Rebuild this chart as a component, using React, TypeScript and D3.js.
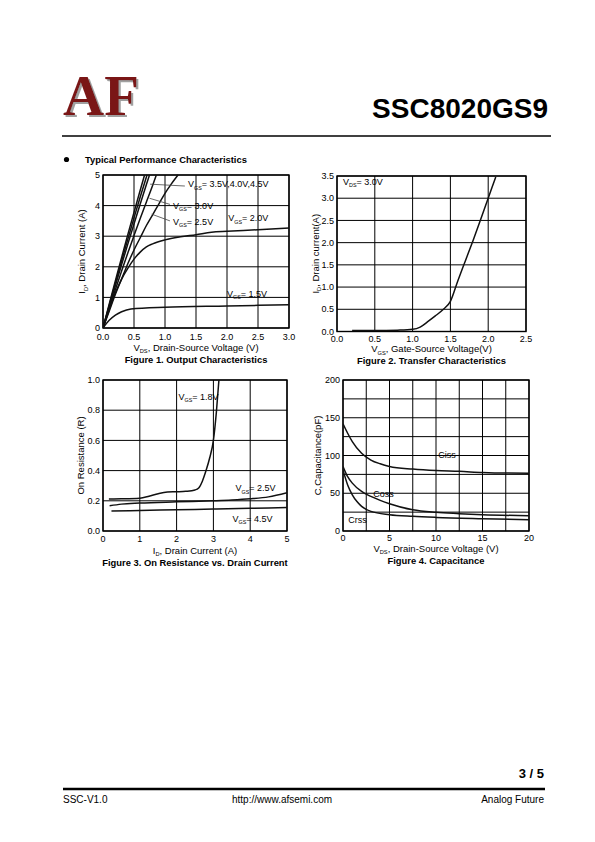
import React from "react";
import * as d3 from "d3";

type Pt = [number, number];

// ---------- Figure 1: Output characteristics (VDS [V], ID [A]) ----------
const fig1XTicks = [0, 0.5, 1, 1.5, 2, 2.5, 3];
const fig1YTicks = [0, 1, 2, 3, 4, 5];
const vgs45: Pt[] = [[0, 0], [0.1, 0.78], [0.2, 1.55], [0.3, 2.3], [0.4, 3.05], [0.5, 3.78], [0.6, 4.5], [0.67, 5.0]];
const vgs40: Pt[] = [[0, 0], [0.1, 0.74], [0.2, 1.47], [0.3, 2.19], [0.4, 2.9], [0.5, 3.6], [0.6, 4.28], [0.71, 5.0]];
const vgs35: Pt[] = [[0, 0], [0.1, 0.7], [0.2, 1.39], [0.3, 2.07], [0.4, 2.74], [0.5, 3.4], [0.6, 4.05], [0.7, 4.69], [0.75, 5.0]];
const vgs30: Pt[] = [[0, 0], [0.1, 0.64], [0.2, 1.26], [0.3, 1.86], [0.4, 2.45], [0.5, 3.02], [0.6, 3.58], [0.7, 4.12], [0.8, 4.66], [0.86, 5.0]];
const vgs25: Pt[] = [[0, 0], [0.1, 0.55], [0.2, 1.1], [0.3, 1.6], [0.4, 2.1], [0.5, 2.55], [0.6, 2.95], [0.7, 3.35], [0.8, 3.7], [0.9, 4.05], [1.0, 4.4], [1.1, 4.7], [1.21, 5.0]];
const vgs20: Pt[] = [[0, 0], [0.1, 0.6], [0.2, 1.15], [0.3, 1.6], [0.4, 1.95], [0.5, 2.25], [0.6, 2.48], [0.7, 2.65], [0.8, 2.75], [1.0, 2.88], [1.25, 2.98], [1.5, 3.05], [1.75, 3.13], [2.0, 3.16], [2.5, 3.21], [3.0, 3.27]];
const vgs15: Pt[] = [[0, 0], [0.1, 0.25], [0.2, 0.42], [0.3, 0.53], [0.45, 0.62], [1.0, 0.68], [2.0, 0.72], [3.0, 0.76]];

// ---------- Figure 2: Transfer characteristics (VGS [V], ID [A]) ----------
const fig2XTicks = [0, 0.5, 1, 1.5, 2, 2.5];
const fig2YTicks = [0, 0.5, 1, 1.5, 2, 2.5, 3, 3.5];
const transfer: Pt[] = [[0.2, 0.02], [0.5, 0.02], [0.8, 0.03], [1.0, 0.05], [1.1, 0.1], [1.2, 0.22], [1.3, 0.35], [1.4, 0.49], [1.5, 0.68], [1.6, 1.15], [1.7, 1.6], [1.8, 2.05], [1.9, 2.52], [2.0, 3.0], [2.1, 3.48]];

// ---------- Figure 3: On resistance vs drain current (ID [A], R) ----------
const fig3XTicks = [0, 1, 2, 3, 4, 5];
const fig3YTicks = [0, 0.2, 0.4, 0.6, 0.8, 1.0];
const ron18: Pt[] = [[0.16, 0.212], [0.5, 0.213], [1.0, 0.217], [1.25, 0.23], [1.5, 0.247], [1.75, 0.258], [2.0, 0.26], [2.25, 0.263], [2.5, 0.272], [2.6, 0.285], [2.7, 0.33], [2.8, 0.4], [2.9, 0.485], [3.0, 0.6], [3.08, 0.785], [3.15, 1.0]];
const ron25: Pt[] = [[0.18, 0.167], [0.5, 0.178], [1.0, 0.185], [2.0, 0.193], [3.0, 0.2], [3.5, 0.205], [4.0, 0.213], [4.5, 0.226], [5.0, 0.253]];
const ron45: Pt[] = [[0.23, 0.133], [1.0, 0.136], [2.0, 0.141], [3.0, 0.145], [4.0, 0.15], [5.0, 0.155]];

// ---------- Figure 4: Capacitance (VDS [V], C [pF]) ----------
const fig4XGrid = [0, 2.5, 5, 7.5, 10, 12.5, 15, 17.5, 20];
const fig4XLabels = [0, 5, 10, 15, 20];
const fig4YGrid = [0, 25, 50, 75, 100, 125, 150, 175, 200];
const fig4YLabels = [0, 50, 100, 150, 200];
const ciss: Pt[] = [[0, 142], [0.5, 129.5], [1, 118.5], [2, 103], [3, 94], [4, 89], [5, 85.5], [7.5, 82], [10, 80], [12.5, 79], [15, 77.5], [17.5, 76.7], [20, 76.5]];
const coss: Pt[] = [[0, 85.5], [0.5, 72], [1, 63.4], [2, 52.4], [3, 45.8], [4, 40.5], [5, 36], [7.5, 28], [10, 24.7], [12.5, 23], [15, 21.6], [20, 20.3]];
const crss: Pt[] = [[0, 81], [0.5, 61], [1, 48], [1.5, 39], [2, 32.6], [3, 26], [5, 21.6], [7.5, 19.4], [10, 18], [15, 16.3], [20, 15]];

const FONT = "'Liberation Sans', Arial, Helvetica, sans-serif";

type Box = { x0: number; x1: number; y0: number; y1: number };

interface Ann {
  x: number;
  y: number;
  main: string;
  sub?: string;
  rest?: string;
}
interface Leader {
  from: Pt;
  to: Pt;
}

function SubText(props: { x: number; y: number; main: string; sub?: string; rest?: string; size?: number; anchor?: string; transform?: string; weight?: string }) {
  const size = props.size ?? 9;
  return (
    <text x={props.x} y={props.y} fontSize={size} textAnchor={props.anchor ?? "start"} transform={props.transform} fontFamily={FONT} fontWeight={props.weight}>
      {props.main}
      {props.sub ? (
        <tspan fontSize={size * 0.6} dy={size * 0.28}>
          {props.sub}
        </tspan>
      ) : null}
      {props.rest ? (
        <tspan fontSize={size} dy={props.sub ? -size * 0.28 : 0}>
          {props.rest}
        </tspan>
      ) : null}
    </text>
  );
}

function Panel(props: {
  box: Box;
  xDomain: [number, number];
  yDomain: [number, number];
  xGrid: number[];
  yGrid: number[];
  xLabels: number[];
  yLabels: number[];
  xFmt: (v: number) => string;
  yFmt: (v: number) => string;
  series: Pt[][];
  anns: Ann[];
  leaders?: Leader[];
  xLabelDy: number;
  xTitle: { main: string; sub: string; rest: string; y: number };
  caption: { text: string; y: number };
  yTitle: { main: string; sub?: string; rest?: string; x: number };
}) {
  const { box } = props;
  const x = d3.scaleLinear().domain(props.xDomain).range([box.x0, box.x1]);
  const y = d3.scaleLinear().domain(props.yDomain).range([box.y1, box.y0]);
  const line = d3
    .line<Pt>()
    .x((d) => x(d[0]))
    .y((d) => y(d[1]))
    .curve(d3.curveMonotoneX);
  const cx = (box.x0 + box.x1) / 2;
  const cy = (box.y0 + box.y1) / 2;
  const clipId = `clip-${Math.round(box.x0)}-${Math.round(box.y0)}`;
  return (
    <g>
      <defs>
        <clipPath id={clipId}>
          <rect x={box.x0} y={box.y0 - 1} width={box.x1 - box.x0} height={box.y1 - box.y0 + 1} />
        </clipPath>
      </defs>
      {props.xGrid.map((v) => (
        <line key={"gx" + v} x1={x(v)} x2={x(v)} y1={box.y0} y2={box.y1} stroke="#000" strokeWidth={1} />
      ))}
      {props.yGrid.map((v) => (
        <line key={"gy" + v} x1={box.x0} x2={box.x1} y1={y(v)} y2={y(v)} stroke="#000" strokeWidth={1} />
      ))}
      <rect x={box.x0} y={box.y0} width={box.x1 - box.x0} height={box.y1 - box.y0} fill="none" stroke="#000" strokeWidth={1.4} />
      <g clipPath={`url(#${clipId})`}>
        {props.series.map((s, i) => (
          <path key={"s" + i} d={line(s) ?? ""} fill="none" stroke="#111" strokeWidth={1.5} />
        ))}
      </g>
      {(props.leaders ?? []).map((l, i) => (
        <line key={"l" + i} x1={x(l.from[0])} y1={y(l.from[1])} x2={x(l.to[0])} y2={y(l.to[1])} stroke="#444" strokeWidth={0.8} />
      ))}
      {props.anns.map((a, i) => (
        <SubText key={"a" + i} x={x(a.x)} y={y(a.y)} main={a.main} sub={a.sub} rest={a.rest} size={9} />
      ))}
      {props.yLabels.map((v) => (
        <text key={"yl" + v} x={box.x0 - 3} y={y(v)} dy="0.35em" fontSize={9} textAnchor="end" fontFamily={FONT}>
          {props.yFmt(v)}
        </text>
      ))}
      {props.xLabels.map((v) => (
        <text key={"xl" + v} x={x(v)} y={box.y1 + props.xLabelDy} fontSize={9} textAnchor="middle" fontFamily={FONT}>
          {props.xFmt(v)}
        </text>
      ))}
      <SubText x={cx} y={props.xTitle.y} main={props.xTitle.main} sub={props.xTitle.sub} rest={props.xTitle.rest} size={9.5} anchor="middle" />
      <text x={cx} y={props.caption.y} fontSize={9.4} fontWeight="bold" textAnchor="middle" fontFamily={FONT}>
        {props.caption.text}
      </text>
      <SubText
        x={0}
        y={0}
        transform={`translate(${props.yTitle.x},${cy}) rotate(-90)`}
        main={props.yTitle.main}
        sub={props.yTitle.sub}
        rest={props.yTitle.rest}
        size={9.5}
        anchor="middle"
      />
    </g>
  );
}

const f1 = d3.format(".1f");
const f0 = d3.format("d");

export default function App() {
  return (
    <svg width={595} height={842} viewBox="0 0 595 842" style={{ position: "absolute", left: 0, top: 0, background: "#fff" }} fontFamily={FONT}>
      <defs>
        <filter id="logoShadow" x="-10%" y="-10%" width="130%" height="130%">
          <feFlood floodColor="#a0a0a0" result="c" />
          <feComposite in="c" in2="SourceAlpha" operator="in" result="s" />
          <feOffset in="s" dx={2} dy={2} result="so" />
          <feMerge>
            <feMergeNode in="so" />
            <feMergeNode in="SourceGraphic" />
          </feMerge>
        </filter>
      </defs>
      <rect x={0} y={0} width={595} height={842} fill="#fff" />
      {/* Header */}
      <text x={63} y={115} fontFamily="'Liberation Serif', 'DejaVu Serif', serif" fontWeight="bold" fontSize={57} fill="#7a1517" filter="url(#logoShadow)">
        AF
      </text>
      <text x={548} y={118} fontSize={28} fontWeight="bold" textAnchor="end" fontFamily={FONT}>
        SSC8020GS9
      </text>
      <line x1={62} x2={551} y1={136} y2={136} stroke="#000" strokeWidth={1.3} />
      <circle cx={66.5} cy={159.5} r={2.6} fill="#000" />
      <text x={85} y={162.5} fontSize={9.4} fontWeight="bold" fontFamily={FONT}>
        Typical Performance Characteristics
      </text>

      {/* Figure 1 */}
      <Panel
        box={{ x0: 103, x1: 289, y0: 175, y1: 328 }}
        xDomain={[0, 3]}
        yDomain={[0, 5]}
        xGrid={fig1XTicks}
        yGrid={fig1YTicks}
        xLabels={fig1XTicks}
        yLabels={fig1YTicks}
        xFmt={f1}
        yFmt={f0}
        series={[vgs45, vgs40, vgs35, vgs30, vgs25, vgs20, vgs15]}
        anns={[
          { x: 1.37, y: 4.6, main: "V", sub: "GS", rest: "= 3.5V,4.0V,4.5V" },
          { x: 1.13, y: 3.9, main: "V", sub: "GS", rest: "= 3.0V" },
          { x: 1.13, y: 3.38, main: "V", sub: "GS", rest: "= 2.5V" },
          { x: 2.02, y: 3.49, main: "V", sub: "GS", rest: "= 2.0V" },
          { x: 2.0, y: 1.02, main: "V", sub: "GS", rest: "= 1.5V" },
        ]}
        leaders={[
          { from: [0.76, 4.7], to: [1.32, 4.64] },
          { from: [0.75, 4.24], to: [1.08, 4.04] },
          { from: [0.785, 3.72], to: [1.08, 3.5] },
        ]}
        xLabelDy={11.5}
        xTitle={{ main: "V", sub: "DS", rest: ", Drain-Source Voltage (V)", y: 350.5 }}
        caption={{ text: "Figure 1. Output Characteristics", y: 363 }}
        yTitle={{ main: "I", sub: "D", rest: ", Drain Current (A)", x: 85 }}
      />

      {/* Figure 2 */}
      <Panel
        box={{ x0: 337, x1: 526, y0: 176, y1: 331.5 }}
        xDomain={[0, 2.5]}
        yDomain={[0, 3.5]}
        xGrid={fig2XTicks}
        yGrid={fig2YTicks}
        xLabels={fig2XTicks}
        yLabels={fig2YTicks}
        xFmt={f1}
        yFmt={f1}
        series={[transfer]}
        anns={[{ x: 0.08, y: 3.3, main: "V", sub: "DS", rest: "= 3.0V" }]}
        xLabelDy={10}
        xTitle={{ main: "V", sub: "GS", rest: ", Gate-Source Voltage(V)", y: 352 }}
        caption={{ text: "Figure 2. Transfer Characteristics", y: 364 }}
        yTitle={{ main: "I", sub: "D", rest: ", Drain current(A)", x: 318.5 }}
      />

      {/* Figure 3 */}
      <Panel
        box={{ x0: 103, x1: 287, y0: 380, y1: 531 }}
        xDomain={[0, 5]}
        yDomain={[0, 1]}
        xGrid={fig3XTicks}
        yGrid={fig3YTicks}
        xLabels={fig3XTicks}
        yLabels={fig3YTicks}
        xFmt={f0}
        yFmt={f1}
        series={[ron18, ron25, ron45]}
        anns={[
          { x: 2.05, y: 0.87, main: "V", sub: "GS", rest: "= 1.8V" },
          { x: 3.6, y: 0.263, main: "V", sub: "GS", rest: "= 2.5V" },
          { x: 3.52, y: 0.06, main: "V", sub: "GS", rest: "= 4.5V" },
        ]}
        xLabelDy={11}
        xTitle={{ main: "I", sub: "D", rest: ", Drain Current (A)", y: 553.5 }}
        caption={{ text: "Figure 3. On Resistance vs. Drain Current", y: 565.5 }}
        yTitle={{ main: "On Resistance (R)", x: 84 }}
      />

      {/* Figure 4 */}
      <Panel
        box={{ x0: 343, x1: 529, y0: 380, y1: 531 }}
        xDomain={[0, 20]}
        yDomain={[0, 200]}
        xGrid={fig4XGrid}
        yGrid={fig4YGrid}
        xLabels={fig4XLabels}
        yLabels={fig4YLabels}
        xFmt={f0}
        yFmt={f0}
        series={[ciss, coss, crss]}
        anns={[
          { x: 10.25, y: 96.7, main: "Ciss" },
          { x: 3.26, y: 44.4, main: "Coss" },
          { x: 0.57, y: 10.9, main: "Crss" },
        ]}
        xLabelDy={10}
        xTitle={{ main: "V", sub: "DS", rest: ", Drain-Source Voltage (V)", y: 551.5 }}
        caption={{ text: "Figure 4. Capacitance", y: 563.5 }}
        yTitle={{ main: "C,Capacitance(pF)", x: 321 }}
      />

      {/* Footer */}
      <text x={544} y={778} fontSize={13} fontWeight="bold" textAnchor="end" fontFamily={FONT}>
        3 / 5
      </text>
      <line x1={63} x2={545} y1={789} y2={789} stroke="#000" strokeWidth={2.7} />
      <text x={63} y={803} fontSize={10} fontFamily={FONT}>
        SSC-V1.0
      </text>
      <text x={232} y={803} fontSize={10} fontFamily={FONT}>
        http://www.afsemi.com
      </text>
      <text x={544} y={803} fontSize={10} textAnchor="end" fontFamily={FONT}>
        Analog Future
      </text>
    </svg>
  );
}
